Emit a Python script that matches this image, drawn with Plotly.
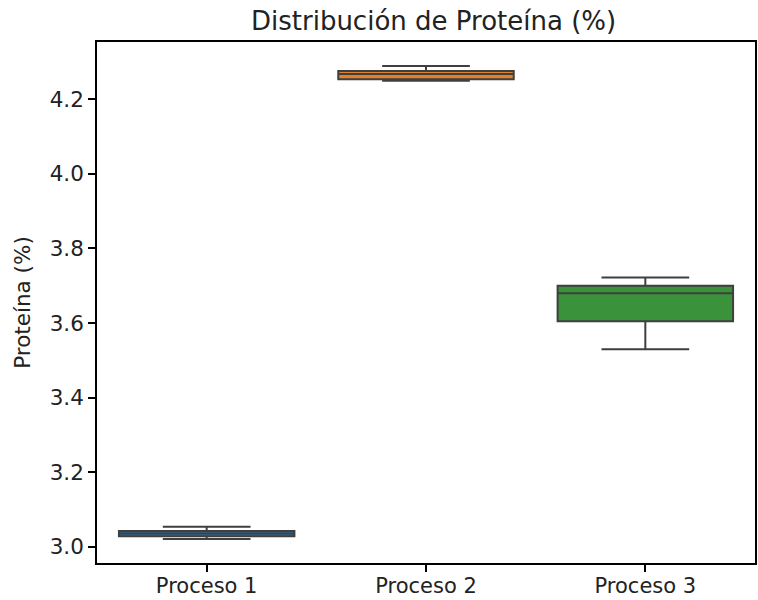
import plotly.graph_objects as go

categories = ["Proceso 1", "Proceso 2", "Proceso 3"]
lower_whisker = [3.021, 4.249, 3.530]
q1_values = [3.029, 4.253, 3.605]
median_values = [3.036, 4.267, 3.680]
q3_values = [3.043, 4.275, 3.700]
upper_whisker = [3.054, 4.289, 3.722]
colors = ["#3274a1", "#e1812c", "#3a923a"]
y_ticks = [3.0, 3.2, 3.4, 3.6, 3.8, 4.0, 4.2]

fig = go.Figure()
for i, cat in enumerate(categories):
    fig.add_trace(go.Box(
        x=[cat],
        q1=[q1_values[i]], median=[median_values[i]], q3=[q3_values[i]],
        lowerfence=[lower_whisker[i]], upperfence=[upper_whisker[i]],
        fillcolor=colors[i], line=dict(color="#3f3f3f", width=2),
        width=0.8, whiskerwidth=0.5, boxpoints=False, showlegend=False,
        hoverinfo="skip", opacity=1,
    ))

fig.update_layout(
    width=758, height=600,
    margin=dict(l=97, r=3, t=42, b=37),
    paper_bgcolor="white", plot_bgcolor="white",
    font=dict(family="DejaVu Sans", size=21.5, color="#222222"),
    title=dict(text="Distribución de Proteína (%)", x=0.572, xanchor="center",
               y=0.965, yanchor="middle", font=dict(size=26, color="#222222")),
    xaxis=dict(type="category", range=[-0.5, 2.5], showline=True, mirror=True,
               linecolor="black", linewidth=1.6, ticks="outside", ticklen=7,
               tickwidth=1.6, tickcolor="black", showgrid=False, zeroline=False,
               tickfont=dict(size=21), automargin=False, ticklabelstandoff=-4),
    yaxis=dict(range=[2.957, 4.353], tickvals=y_ticks,
               ticktext=[f"{v:.1f}" for v in y_ticks],
               showline=True, mirror=True, linecolor="black", linewidth=1.6,
               ticks="outside", ticklen=7, tickwidth=1.6, tickcolor="black",
               showgrid=False, zeroline=False, tickfont=dict(size=21.5),
               automargin=False,
               title=dict(text="Proteína (%)", font=dict(size=21.5), standoff=13)),
)

fig.write_html("out.html", config={"displayModeBar": False},
               post_script="document.body.style.margin='0';document.body.style.overflow='hidden';")
